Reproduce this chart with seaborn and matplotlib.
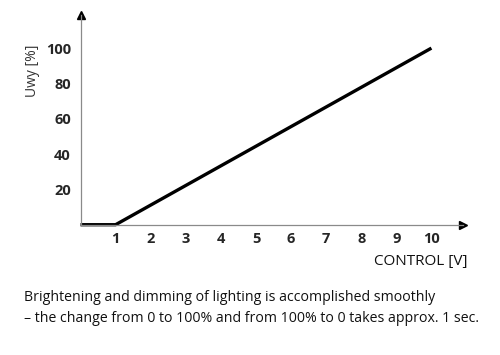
import matplotlib
matplotlib.use("Agg")
import matplotlib.pyplot as plt
import seaborn as sns
import pandas as pd

control_v = [0, 1, 10]
output_pct = [0, 0, 100]
x_ticks = [1, 2, 3, 4, 5, 6, 7, 8, 9, 10]
y_ticks = [0, 20, 40, 60, 80, 100]
y_tick_labels = ["", "20", "40", "60", "80", "100"]
caption = ("Brightening and dimming of lighting is accomplished smoothly\n"
           "\u2013 the change from 0 to 100% and from 100% to 0 takes approx. 1 sec.")

sns.set_style("white")
plt.rcParams['font.family'] = ['Open Sans', 'DejaVu Sans']

df = pd.DataFrame({"control": control_v, "out": output_pct})

fig = plt.figure(figsize=(5.0, 3.55), dpi=100)
ax = fig.add_axes([0.161, 0.367, 0.765, 0.591])
sns.lineplot(data=df, x="control", y="out", ax=ax, color="black", linewidth=2.4,
             solid_capstyle="butt", clip_on=False)

ax.set_xlim(0, 10.9)
ax.set_ylim(0, 118.8)
for s in ["top", "right"]:
    ax.spines[s].set_visible(False)
axis_gray = "#8a8a8a"
for s in ["left", "bottom"]:
    ax.spines[s].set_color(axis_gray)
    ax.spines[s].set_linewidth(0.9)

ax.set_xticks(x_ticks)
ax.set_xticklabels([str(v) for v in x_ticks], fontsize=10.5, fontweight="bold")
ax.set_yticks(y_ticks)
ax.set_yticklabels(y_tick_labels, fontsize=10.5, fontweight="bold")
ax.tick_params(axis="x", direction="inout", length=5, width=0.8, color=axis_gray, pad=3)
ax.tick_params(axis="y", direction="out", length=4, width=0.8, color=axis_gray, pad=3)
ax.set_xlabel("")
ax.set_ylabel("")

# axis arrows
ax.plot([1], [0], marker=">", color="black", markersize=6, transform=ax.transAxes, clip_on=False)
ax.plot([0], [1], marker="^", color="black", markersize=6, transform=ax.transAxes, clip_on=False)

fig.text(0.066, 0.80, "Uwy [%]", rotation=90, ha="center", va="center", fontsize=10, color="#333333")
fig.text(0.934, 0.263, "CONTROL [V]", ha="right", va="center", fontsize=11, color="#111111")
fig.text(0.048, 0.132, caption, ha="left", va="center", fontsize=10.2, color="#111111", linespacing=1.5)

fig.savefig("out.png", dpi=100)
